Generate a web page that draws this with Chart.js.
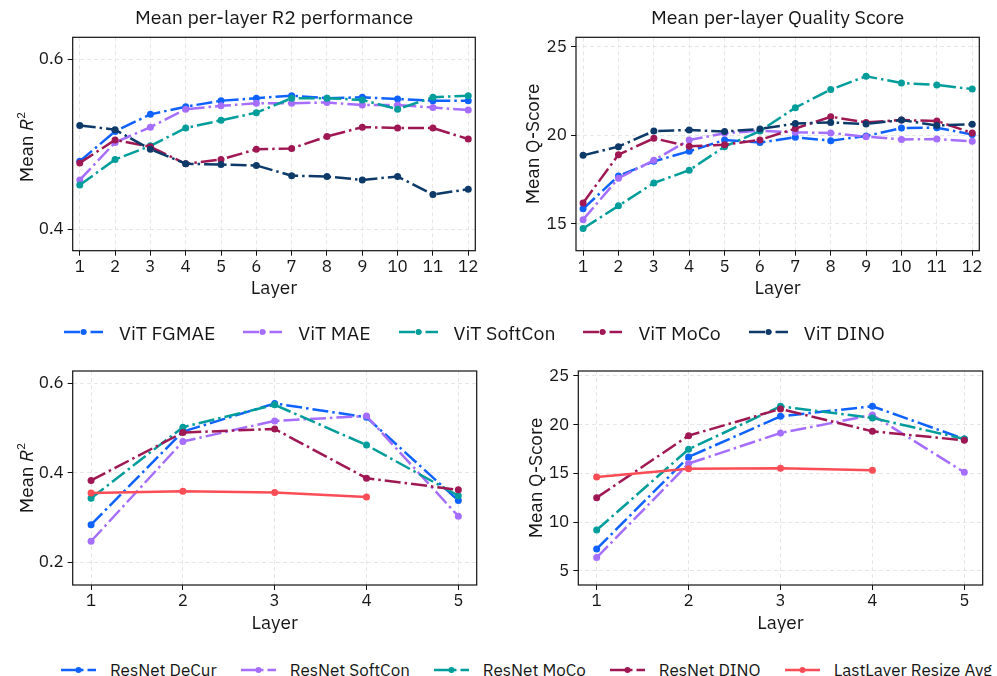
<!DOCTYPE html>
<html>
<head>
<meta charset="utf-8">
<script src="https://cdn.jsdelivr.net/npm/chart.js@4.4.0/dist/chart.umd.min.js"></script>
<style>
  body { margin:0; background:#fff; width:997px; height:676px; overflow:hidden; position:relative;
         font-family:"IBM Plex Sans","Noto Sans",sans-serif; color:#161616; }
  .box { position:absolute; }
  .ytitle { position:absolute; transform:translate(-50%,-50%) rotate(-90deg); white-space:nowrap; font-size:19px; }
  .ytitle sup { font-size:12px; vertical-align:8px; }
  .legend { position:absolute; display:flex; align-items:center; white-space:nowrap; }
  .legend .item { display:flex; align-items:center; }
  .legend svg { display:block; }
</style>
</head>
<body>
<div class="box" style="left:0;top:0;width:490px;height:300px"><canvas id="c1"></canvas></div>
<div class="box" style="left:490px;top:0;width:507px;height:300px"><canvas id="c2"></canvas></div>
<div class="box" style="left:0;top:355px;width:490px;height:290px"><canvas id="c3"></canvas></div>
<div class="box" style="left:490px;top:355px;width:507px;height:290px"><canvas id="c4"></canvas></div>

<div class="ytitle" style="left:25px;top:147px">Mean <i>R</i><sup>2</sup></div>
<div class="ytitle" style="left:532px;top:144px">Mean Q-Score</div>
<div class="ytitle" style="left:25px;top:478px">Mean <i>R</i><sup>2</sup></div>
<div class="ytitle" style="left:535px;top:478px">Mean Q-Score</div>

<div class="legend" id="leg1" style="left:64px;top:319px;height:26px;font-size:19.5px"></div>
<div class="legend" id="leg2" style="left:61px;top:658px;height:24px;font-size:17px"></div>

<script>
// ---- data ----
var vitLayers = [1,2,3,4,5,6,7,8,9,10,11,12];
var resLayers = [1,2,3,4,5];
var lastLayers = [1,2,3,4];

var vitNames = ["ViT FGMAE","ViT MAE","ViT SoftCon","ViT MoCo","ViT DINO"];
var resNames = ["ResNet DeCur","ResNet SoftCon","ResNet MoCo","ResNet DINO","LastLayer Resize Avg"];

var fgmaeR2   = [0.480,0.515,0.535,0.544,0.551,0.554,0.557,0.554,0.555,0.553,0.551,0.551];
var maeR2     = [0.458,0.502,0.520,0.541,0.545,0.548,0.548,0.549,0.546,0.546,0.543,0.540];
var softconR2 = [0.452,0.482,0.498,0.519,0.528,0.537,0.554,0.554,0.552,0.541,0.555,0.557];
var mocoR2    = [0.478,0.505,0.497,0.477,0.482,0.494,0.495,0.509,0.520,0.519,0.519,0.506];
var dinoR2    = [0.522,0.517,0.494,0.477,0.476,0.475,0.463,0.462,0.458,0.462,0.441,0.447];

var fgmaeQ   = [15.85,17.71,18.53,19.10,19.74,19.59,19.89,19.70,19.96,20.41,20.43,20.04];
var maeQ     = [15.24,17.58,18.59,19.74,20.11,20.26,20.17,20.13,19.92,19.77,19.79,19.66];
var softconQ = [14.74,16.02,17.31,18.03,19.36,20.24,21.56,22.58,23.33,22.95,22.84,22.61];
var mocoQ    = [16.18,18.91,19.83,19.38,19.47,19.74,20.38,21.05,20.73,20.86,20.81,20.13];
var dinoQ    = [18.87,19.36,20.24,20.30,20.21,20.36,20.66,20.73,20.64,20.86,20.56,20.62];

var decurR2      = [0.284,0.492,0.555,0.524,0.338];
var softconResR2 = [0.247,0.470,0.516,0.527,0.303];
var mocoResR2    = [0.343,0.502,0.552,0.462,0.349];
var dinoResR2    = [0.383,0.490,0.498,0.388,0.362];
var lastLayerR2  = [0.355,0.359,0.356,0.346];

var decurQ      = [7.26,16.69,20.86,21.89,18.54];
var softconResQ = [6.37,16.01,19.15,21.00,15.12];
var mocoResQ    = [9.20,17.48,21.89,20.69,18.54];
var dinoResQ    = [12.52,18.88,21.62,19.32,18.40];
var lastLayerQ  = [14.64,15.49,15.53,15.32];

var vitXTicks = vitLayers;
var resXTicks = resLayers;
var r2TopTicks = [0.4,0.6];
var qTopTicks = [15,20,25];
var r2BotTicks = [0.2,0.4,0.6];
var qBotTicks = [5,10,15,20,25];

// ---- styles ----
var colors = ["#0f62fe","#a56eff","#009d9a","#9f1853","#0d3a69"];
var red = "#fa4d56";
var dashDot = [16,4,2.5,4];
var FONT = '"IBM Plex Sans","Noto Sans",sans-serif';

function pts(xs, ys) {
  var out = [];
  for (var i = 0; i < ys.length; i++) out.push({x: xs[i], y: ys[i]});
  return out;
}

function ds(label, xs, ys, color, dash, idx) {
  return {
    label: label, data: pts(xs, ys),
    borderColor: color, backgroundColor: color,
    borderWidth: 2.5, borderDash: dash, borderCapStyle: 'butt',
    pointRadius: 3.5, pointHoverRadius: 3.5, pointBorderWidth: 0,
    tension: 0, order: -idx
  };
}

var framePlugin = {
  id: 'frame',
  afterDraw: function(chart) {
    var a = chart.chartArea, ctx = chart.ctx;
    ctx.save();
    ctx.strokeStyle = '#111';
    ctx.lineWidth = 1.2;
    ctx.strokeRect(a.left, a.top, a.right - a.left, a.bottom - a.top);
    ctx.restore();
  }
};

function makeChart(id, o) {
  var ctx = document.getElementById(id).getContext('2d');
  return new Chart(ctx, {
    type: 'line',
    data: { datasets: o.datasets },
    plugins: [framePlugin],
    options: {
      responsive: true, maintainAspectRatio: false, animation: false,
      layout: { padding: { left: 0, right: o.padRight, top: o.padTop, bottom: 0 } },
      plugins: {
        legend: { display: false },
        tooltip: { enabled: false },
        title: {
          display: !!o.title, text: o.title || '', fullSize: false,
          color: '#161616', font: { family: FONT, size: 19.5, weight: 'normal' },
          padding: { top: 6.3, bottom: 7.6 }
        }
      },
      scales: {
        x: {
          type: 'linear', min: o.xMin, max: o.xMax,
          afterBuildTicks: function(s) { s.ticks = o.xTicks.map(function(v){ return {value: v}; }); },
          afterFit: function(s) { s.height = o.xHeight; },
          grid: { color: '#e6e6e6', lineWidth: 1, tickColor: '#111', tickLength: 5, tickWidth: 1 },
          border: { display: false, dash: [4,3] },
          ticks: { color: '#161616', font: { family: FONT, size: 17 }, padding: 1, maxRotation: 0 },
          title: { display: true, text: 'Layer', color: '#161616', font: { family: FONT, size: 19 }, padding: { top: 0, bottom: o.xTitlePad } }
        },
        y: {
          type: 'linear', min: o.yMin, max: o.yMax,
          afterBuildTicks: function(s) { s.ticks = o.yTicks.map(function(v){ return {value: v}; }); },
          afterFit: function(s) { s.width = o.yWidth; },
          grid: { color: '#e6e6e6', lineWidth: 1, tickColor: '#111', tickLength: 5, tickWidth: 1 },
          border: { display: false, dash: [4,3] },
          ticks: { color: '#161616', font: { family: FONT, size: 17 }, padding: 4,
                   callback: function(v) { return o.yFmt(v); } }
        }
      }
    }
  });
}

var vitR2Sets = [fgmaeR2, maeR2, softconR2, mocoR2, dinoR2];
var vitQSets = [fgmaeQ, maeQ, softconQ, mocoQ, dinoQ];
var resR2Sets = [decurR2, softconResR2, mocoResR2, dinoResR2];
var resQSets = [decurQ, softconResQ, mocoResQ, dinoResQ];

function vitDatasets(sets) {
  return sets.map(function(s, i) { return ds(vitNames[i], vitLayers, s, colors[i], dashDot, i); });
}
function resDatasets(sets, last) {
  var out = sets.map(function(s, i) { return ds(resNames[i], resLayers, s, colors[i], dashDot, i); });
  out.push(ds(resNames[4], lastLayers, last, red, [], 4));
  return out;
}

makeChart('c1', {
  title: 'Mean per-layer R2 performance', datasets: vitDatasets(vitR2Sets),
  xMin: 0.8, xMax: 12.2, yMin: 0.3749, yMax: 0.6255, xTicks: vitXTicks, yTicks: r2TopTicks,
  yWidth: 72.7, xHeight: 49.3, padRight: 14.7, padTop: 0, xTitlePad: 0,
  yFmt: function(v) { return v.toFixed(1); }
});
makeChart('c2', {
  title: 'Mean per-layer Quality Score', datasets: vitDatasets(vitQSets),
  xMin: 0.8, xMax: 12.2, yMin: 13.49, yMax: 25.53, xTicks: vitXTicks, yTicks: qTopTicks,
  yWidth: 86, xHeight: 49.3, padRight: 17.7, padTop: 0, xTitlePad: 0,
  yFmt: function(v) { return String(v); }
});
makeChart('c3', {
  title: '', datasets: resDatasets(resR2Sets, lastLayerR2),
  xMin: 0.8, xMax: 5.2, yMin: 0.1493, yMax: 0.6275, xTicks: resXTicks, yTicks: r2BotTicks,
  yWidth: 72.7, xHeight: 60, padRight: 13.3, padTop: 16, xTitlePad: 10.5,
  yFmt: function(v) { return v.toFixed(1); }
});
makeChart('c4', {
  title: '', datasets: resDatasets(resQSets, lastLayerQ),
  xMin: 0.8, xMax: 5.2, yMin: 3.56, yMax: 25.51, xTicks: resXTicks, yTicks: qBotTicks,
  yWidth: 88.3, xHeight: 60, padRight: 14.3, padTop: 16, xTitlePad: 10.5,
  yFmt: function(v) { return String(v); }
});

// ---- html legends ----
function buildLegend(el, names, cols, dashes, symW, symGap, itemGap) {
  names.forEach(function(name, i) {
    var item = document.createElement('div');
    item.className = 'item';
    if (i > 0) item.style.marginLeft = itemGap + 'px';
    var d = dashes[i].length ? dashes[i].join(',') : 'none';
    item.innerHTML =
      '<svg width="' + symW + '" height="10"><line x1="0" y1="5" x2="' + symW + '" y2="5" stroke="' + cols[i] +
      '" stroke-width="2.5" stroke-dasharray="' + d + '"/><circle cx="' + (symW / 2) + '" cy="5" r="3" fill="' + cols[i] + '"/></svg>' +
      '<span style="margin-left:' + symGap + 'px">' + name + '</span>';
    el.appendChild(item);
  });
}
buildLegend(document.getElementById('leg1'), vitNames, colors, [dashDot,dashDot,dashDot,dashDot,dashDot], 39, 16, 28);
buildLegend(document.getElementById('leg2'), resNames, colors.slice(0,4).concat([red]), [dashDot,dashDot,dashDot,dashDot,[]], 35, 14, 24);
</script>
</body>
</html>
